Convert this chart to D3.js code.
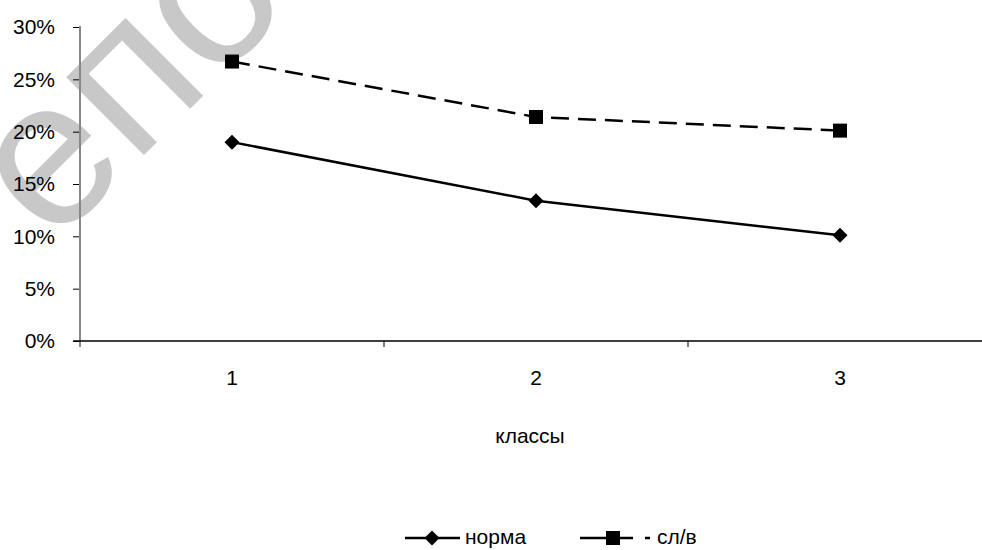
<!DOCTYPE html>
<html>
<head>
<meta charset="utf-8">
<script src="https://cdn.jsdelivr.net/npm/d3@7"></script>
<style>
  html, body { margin: 0; padding: 0; background: #fff; }
  svg { display: block; font-family: "Liberation Sans", Arial, sans-serif; }
</style>
</head>
<body>
<svg id="chart" width="982" height="550"></svg>
<script>
// Share of pupils by class year
const categories = ["1", "2", "3"];
const normaValues = [0.190, 0.134, 0.101];
const slvValues = [0.267, 0.214, 0.201];
const seriesNames = ["норма", "сл/в"];
const yTicks = [0, 0.05, 0.10, 0.15, 0.20, 0.25, 0.30];
const xTitle = "классы";
const watermark = "епо";

const svg = d3.select("#chart");
const W = 982, H = 550;
const FS = 21;

// plot area (extends past the right edge)
const plotLeft = 80, plotRight = 992, plotTop = 27, plotBottom = 341;

const x = d3.scaleBand().domain(categories).range([plotLeft, plotRight]).padding(0);
const y = d3.scaleLinear().domain([0, 0.30]).range([plotBottom, plotTop]);

// background watermark
svg.append("text")
  .attr("transform", "translate(52,247) rotate(-45)")
  .attr("font-size", 208)
  .attr("fill", "#c8c8c8")
  .text(watermark);

// y axis
const yAxis = d3.axisLeft(y).tickValues(yTicks)
  .tickFormat(d3.format(".0%")).tickSize(7).tickPadding(18);
const gy = svg.append("g").attr("transform", `translate(${plotLeft},0)`).call(yAxis);
gy.attr("font-size", FS).attr("font-family", "Liberation Sans, Arial, sans-serif");
gy.select(".domain").remove();
gy.selectAll(".tick line").attr("stroke", "#000").attr("stroke-width", 1);
gy.selectAll("text").attr("fill", "#000");
gy.append("line").attr("x1", 0).attr("x2", 0).attr("y1", plotTop - 1).attr("y2", plotBottom + 6)
  .attr("stroke", "#888").attr("stroke-width", 2);

// x axis
const gx = svg.append("g").attr("transform", `translate(0,${plotBottom})`);
gx.append("line").attr("x1", plotLeft - 7).attr("x2", W).attr("y1", 0).attr("y2", 0)
  .attr("stroke", "#000").attr("stroke-width", 1.5);
const boundaries = categories.map(c => x(c)).concat([x(categories[categories.length - 1]) + x.bandwidth()]);
gx.selectAll("line.tk").data(boundaries.slice(1)).enter().append("line")
  .attr("class", "tk").attr("x1", d => d).attr("x2", d => d).attr("y1", 0).attr("y2", 6)
  .attr("stroke", "#000").attr("stroke-width", 1);
gx.selectAll("text.lbl").data(categories).enter().append("text")
  .attr("class", "lbl")
  .attr("x", d => x(d) + x.bandwidth() / 2).attr("y", 44)
  .attr("text-anchor", "middle").attr("font-size", FS).text(d => d);

svg.append("text").attr("x", 530).attr("y", 443)
  .attr("text-anchor", "middle").attr("font-size", FS).text(xTitle);

const cx = d => x(d) + x.bandwidth() / 2;
const line = d3.line().x((d, i) => cx(categories[i])).y(d => y(d));

// сл/в series (dashed, squares)
svg.append("path").datum(slvValues).attr("d", line)
  .attr("fill", "none").attr("stroke", "#000").attr("stroke-width", 2.5)
  .attr("stroke-dasharray", "18,9");
svg.selectAll("rect.sq").data(slvValues).enter().append("rect")
  .attr("class", "sq")
  .attr("x", (d, i) => cx(categories[i]) - 7).attr("y", d => y(d) - 7)
  .attr("width", 14).attr("height", 14).attr("fill", "#000");

// норма series (solid, diamonds)
svg.append("path").datum(normaValues).attr("d", line)
  .attr("fill", "none").attr("stroke", "#000").attr("stroke-width", 2.5);
const diamond = "M0,-7.5L7.5,0L0,7.5L-7.5,0Z";
svg.selectAll("path.dm").data(normaValues).enter().append("path")
  .attr("class", "dm").attr("d", diamond)
  .attr("transform", (d, i) => `translate(${cx(categories[i])},${y(d)})`)
  .attr("fill", "#000");

// legend
const ly = 538;
const lg = svg.append("g");
lg.append("line").attr("x1", 405).attr("x2", 460).attr("y1", ly).attr("y2", ly)
  .attr("stroke", "#000").attr("stroke-width", 2.5);
lg.append("path").attr("d", diamond).attr("transform", `translate(432,${ly})`).attr("fill", "#000");
lg.append("text").attr("x", 465).attr("y", ly + 6).attr("font-size", FS).text(seriesNames[0]);

lg.append("line").attr("x1", 580).attr("x2", 650).attr("y1", ly).attr("y2", ly)
  .attr("stroke", "#000").attr("stroke-width", 2.5).attr("stroke-dasharray", "53,12,5");
lg.append("rect").attr("x", 606).attr("y", ly - 7).attr("width", 14).attr("height", 14).attr("fill", "#000");
lg.append("text").attr("x", 657).attr("y", ly + 6).attr("font-size", FS).text(seriesNames[1]);
</script>
</body>
</html>
